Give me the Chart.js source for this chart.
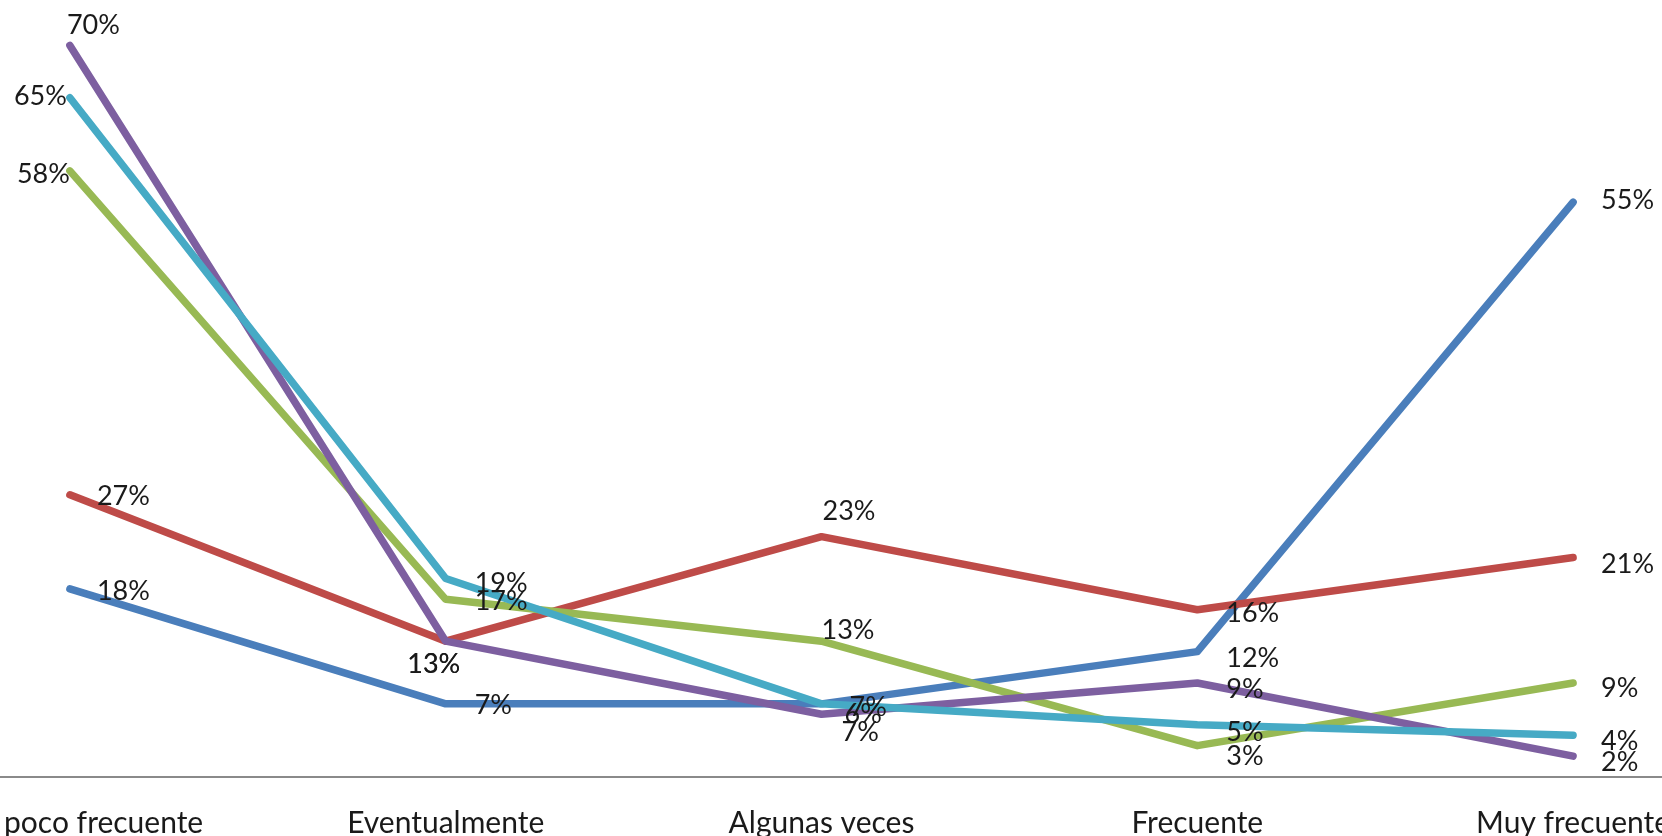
<!DOCTYPE html>
<html>
<head>
<meta charset="utf-8">
<script src="https://cdn.jsdelivr.net/npm/chart.js@4.4.1/dist/chart.umd.min.js"></script>
<style>
  html, body { margin: 0; padding: 0; width: 1662px; height: 836px; overflow: hidden; background: #ffffff; }
  #wrap { position: absolute; left: -118px; top: -59.5px; width: 1879px; height: 896px; }
</style>
</head>
<body>
<div id="wrap"><canvas id="c"></canvas></div>
<script>
// ---- data ----
const categories = ["Muy poco frecuente", "Eventualmente", "Algunas veces", "Frecuente", "Muy frecuente"];
const serie1 = [0.18, 0.07, 0.07, 0.12, 0.55];  // azul
const serie2 = [0.27, 0.13, 0.23, 0.16, 0.21];  // rojo
const serie3 = [0.58, 0.17, 0.13, 0.03, 0.09];  // verde
const serie4 = [0.70, 0.13, 0.06, 0.09, 0.02];  // morado
const serie5 = [0.65, 0.19, 0.07, 0.05, 0.04];  // celeste

// ---- styles ----
const colors = ["#4a7ebb", "#be4b48", "#98b954", "#7d5fa0", "#46aac5"];
const seriesList = [serie1, serie2, serie3, serie4, serie5];

// data label placement (pixels relative to each point; alignment)
const labelDx = [
  [27, 29, 28, 29, 28],
  [27, -12, 1, 29, 28],
  [0, 29, 0, 29, 28],
  [-3, -12, 23, 29, 28],
  [-3, 29, 20, 29, 28]
];
const labelDy = [
  [1, 0, 2, 5, -3],
  [0, 22, -27, 2, 5],
  [2, 1, -12, 9, 4],
  [-22, 22, -1, 5, 5],
  [-3, 4, 27, 6, 5]
];
const labelAlign = [
  ["left", "left", "left", "left", "left"],
  ["left", "center", "left", "left", "left"],
  ["right", "left", "left", "left", "left"],
  ["left", "center", "left", "left", "left"],
  ["right", "left", "left", "left", "left"]
];

const labelFont = "27px Lato";
const textColor = "#1a1a1a";

const dataLabels = {
  id: "dataLabels",
  afterDatasetsDraw(chart) {
    const ctx = chart.ctx;
    ctx.save();
    ctx.font = labelFont;
    ctx.fillStyle = textColor;
    ctx.textBaseline = "alphabetic";
    chart.data.datasets.forEach((ds, i) => {
      const meta = chart.getDatasetMeta(i);
      meta.data.forEach((pt, j) => {
        const v = ds.data[j];
        ctx.textAlign = labelAlign[i][j];
        ctx.fillText(Math.round(v * 100) + "%", pt.x + labelDx[i][j], pt.y + labelDy[i][j] + 10);
      });
    });
    ctx.restore();
  }
};

new Chart(document.getElementById("c"), {
  type: "line",
  data: {
    labels: categories,
    datasets: seriesList.map((s, i) => ({
      label: "Serie " + (i + 1),
      data: s,
      borderColor: colors[i],
      backgroundColor: colors[i],
      borderWidth: 7.5,
      borderCapStyle: "round",
      borderJoinStyle: "round",
      pointRadius: 0,
      pointHoverRadius: 0,
      tension: 0,
      fill: false,
      clip: false,
      order: 5 - i
    }))
  },
  options: {
    responsive: true,
    maintainAspectRatio: false,
    animation: false,
    events: [],
    layout: { padding: 0, autoPadding: false },
    plugins: {
      legend: { display: false },
      tooltip: { enabled: false }
    },
    scales: {
      x: {
        type: "category",
        offset: true,
        grid: { display: false, drawTicks: false },
        border: { display: true, color: "#8a8a8a", width: 2 },
        ticks: {
          color: textColor,
          font: { family: "Lato", size: 30 },
          padding: 28,
          maxRotation: 0,
          autoSkip: false
        },
        afterFit(scale) { scale.height = 60; }
      },
      y: {
        display: false,
        min: 0,
        max: 0.8
      }
    }
  },
  plugins: [dataLabels]
});
</script>
</body>
</html>
